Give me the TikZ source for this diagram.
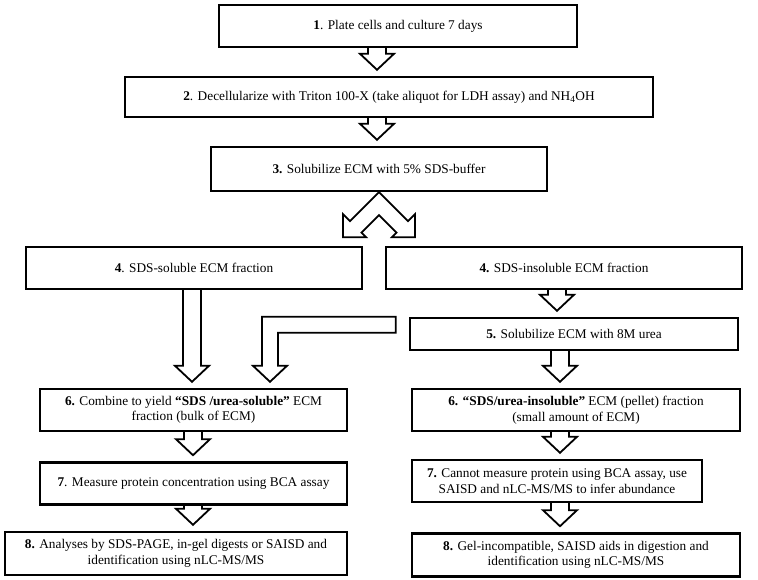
\documentclass[tikz,border=0pt]{standalone}
\usepackage{fontspec}
\setmainfont{Liberation Serif}
\usetikzlibrary{calc,positioning}
\tikzset{
  stepbox/.style={draw, line width=2.4pt, inner sep=0pt, align=center,
    font=\fontsize{13.3}{15.5}\selectfont},
  hollow/.style={draw, line width=1.8pt, line join=miter},
}
% hollow block arrow: x position, source node, target node
\newcommand{\fatdown}[3]{%
  \draw[hollow] let \p1=(#2.south), \p2=(#3.north) in
    (#1pt-9pt,\y1) -- (#1pt-9pt,\y2+22pt) -- (#1pt-17pt,\y2+22pt)
    -- (#1pt,\y2+6pt) -- (#1pt+17pt,\y2+22pt) -- (#1pt+9pt,\y2+22pt)
    -- (#1pt+9pt,\y1);}

\begin{document}
\begin{tikzpicture}[x=1pt, y=-1pt]
  \useasboundingbox (0,0) rectangle (758,580);

  \node[stepbox, minimum width=358pt, minimum height=42pt] (s1) at (398,26)
    {\textbf{1}. Plate cells and culture 7 days};
  \node[stepbox, minimum width=528pt, minimum height=40pt] (s2) at (389,97)
    {\textbf{2}. Decellularize with Triton 100-X (take aliquot for LDH assay) and NH\textsubscript{4}OH};
  \node[stepbox, minimum width=336pt, minimum height=44pt] (s3) at (379,169)
    {\textbf{3.} Solubilize ECM with 5\% SDS-buffer};

  \node[stepbox, minimum width=336pt, minimum height=42pt] (s4l) at (194,268)
    {\textbf{4}. SDS-soluble ECM fraction};
  \node[stepbox, minimum width=356pt, minimum height=42pt] (s4r) at (564,268)
    {\textbf{4.} SDS-insoluble ECM fraction};
  \node[stepbox, minimum width=328pt, minimum height=32pt] (s5) at (574,334)
    {\textbf{5.} Solubilize ECM with 8M urea};

  \node[stepbox, minimum width=307pt, minimum height=42pt] (s6l) at (193.5,410)
    {\textbf{6.} Combine to yield \textbf{“SDS /urea-soluble”} ECM\\ fraction (bulk of ECM)};
  \node[stepbox, minimum width=328pt, minimum height=42pt] (s6r) at (576,410)
    {\textbf{6. “SDS/urea-insoluble”} ECM (pellet) fraction\\ (small amount of ECM)};
  \node[stepbox, minimum width=307pt, minimum height=42pt, below=29pt of s6l] (s7l)
    {\textbf{7}. Measure protein concentration using BCA assay};
  \node[stepbox, minimum width=290pt, minimum height=42pt] (s7r) at (557,481)
    {\textbf{7.} Cannot measure protein using BCA assay, use\\ SAISD and nLC-MS/MS to infer abundance};
  \node[stepbox, minimum width=342pt, minimum height=43pt] (s8l) at (176,553.5)
    {\textbf{8.} Analyses by SDS-PAGE, in-gel digests or SAISD and\\ identification using nLC-MS/MS};
  \node[stepbox, minimum width=328pt, minimum height=43pt, below=29pt of s7r.south -| s6r] (s8r)
    {\textbf{8.} Gel-incompatible, SAISD aids in digestion and\\ identification using nLC-MS/MS};

  \fatdown{377}{s1}{s2}
  \fatdown{377}{s2}{s3}
  % split into both fractions
  \draw[hollow, shift={(s3.south)}] (0,0) -- (-29,29) -- (-36,22) -- (-36,45)
    -- (-13,45) -- (-17.5,40.5) -- (0,23) -- (17.5,40.5) -- (13,45) -- (36,45)
    -- (36,22) -- (29,29) -- cycle;
  \fatdown{192}{s4l}{s6l}
  \fatdown{557}{s4r}{s5}
  \draw[hollow] let \p1=(s5.north west), \p2=(s6l.north) in
    (\x1-13pt,\y1) -- (262pt,\y1) -- (262pt,\y2+22pt) -- (253pt,\y2+22pt)
    -- (270pt,\y2+6pt) -- (287pt,\y2+22pt) -- (278pt,\y2+22pt)
    -- (278pt,\y1-16pt) -- (\x1-13pt,\y1-16pt) -- cycle;
  \fatdown{560}{s5}{s6r}
  \fatdown{193}{s6l}{s7l}
  \fatdown{560}{s6r}{s7r}
  \fatdown{193}{s7l}{s8l}
  \fatdown{560}{s7r}{s8r}
\end{tikzpicture}
\end{document}
